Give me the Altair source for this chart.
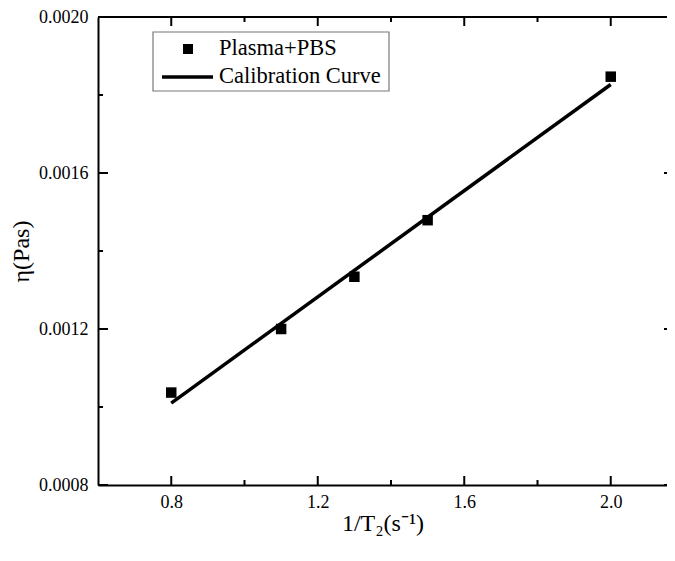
import altair as alt
import pandas as pd

# data
inv_t2 = [0.8, 1.1, 1.3, 1.5, 2.0]
eta = [0.001037, 0.001200, 0.001334, 0.001479, 0.001847]
fit_x = [0.8, 2.0]
fit_y = [0.00101, 0.001827]
series_names = ["Plasma+PBS", "Calibration Curve"]

x_major = [0.8, 1.2, 1.6, 2.0]
x_minor = [1.0, 1.4, 1.8]
y_major = [0.0008, 0.0012, 0.0016, 0.0020]
y_minor = [0.0010, 0.0014, 0.0018]

W, H = 569, 468
FONT = "Liberation Serif"

xs = alt.Scale(domain=[0.6, 2.1536], nice=False, zero=False)
ys = alt.Scale(domain=[0.0008, 0.0020], nice=False, zero=False)

pts_df = pd.DataFrame({"x": inv_t2, "y": eta})
fit_df = pd.DataFrame({"x": fit_x, "y": fit_y})

x_axis = alt.Axis(values=x_major, format=".1f", title="1/T\u2082(s\u207b\u00b9)",
                  ticks=False, grid=False, domainColor="black", domainWidth=2,
                  labelFont=FONT, labelFontSize=18, labelColor="black", labelPadding=8,
                  titleFont=FONT, titleFontSize=24, titleFontWeight="normal",
                  titleColor="black", titlePadding=0)
y_axis = alt.Axis(values=y_major, format=".4f", title="\u03b7(Pas)",
                  ticks=False, grid=False, domainColor="black", domainWidth=2,
                  labelFont=FONT, labelFontSize=18, labelColor="black", labelPadding=10,
                  titleFont=FONT, titleFontSize=24, titleFontWeight="normal",
                  titleColor="black", titlePadding=5)

points = alt.Chart(pts_df).mark_point(shape="square", filled=True, color="black",
                                      size=110, opacity=1).encode(
    x=alt.X("x:Q", scale=xs, axis=x_axis),
    y=alt.Y("y:Q", scale=ys, axis=y_axis),
)

line = alt.Chart(fit_df).mark_line(color="black", strokeWidth=3.5).encode(
    x=alt.X("x:Q", scale=xs),
    y=alt.Y("y:Q", scale=ys),
)

tick_style = dict(color="black", strokeWidth=2)

xmaj_df = pd.DataFrame({"t": x_major})
xmin_df = pd.DataFrame({"t": x_minor})
ymaj_df = pd.DataFrame({"t": y_major})
ymin_df = pd.DataFrame({"t": y_minor})

xb_major = alt.Chart(xmaj_df).mark_rule(**tick_style).encode(
    x=alt.X("t:Q", scale=xs), y=alt.value(H), y2=alt.value(H - 9))
xb_minor = alt.Chart(xmin_df).mark_rule(**tick_style).encode(
    x=alt.X("t:Q", scale=xs), y=alt.value(H), y2=alt.value(H - 5))
xt_major = alt.Chart(xmaj_df).mark_rule(**tick_style).encode(
    x=alt.X("t:Q", scale=xs), y=alt.value(0), y2=alt.value(9))
xt_minor = alt.Chart(xmin_df).mark_rule(**tick_style).encode(
    x=alt.X("t:Q", scale=xs), y=alt.value(0), y2=alt.value(5))
yl_major = alt.Chart(ymaj_df).mark_rule(**tick_style).encode(
    y=alt.Y("t:Q", scale=ys), x=alt.value(0), x2=alt.value(10))
yl_minor = alt.Chart(ymin_df).mark_rule(**tick_style).encode(
    y=alt.Y("t:Q", scale=ys), x=alt.value(0), x2=alt.value(5))
yr_major = alt.Chart(ymaj_df).mark_rule(**tick_style).encode(
    y=alt.Y("t:Q", scale=ys), x=alt.value(W), x2=alt.value(W - 3))
top_line = alt.Chart(xmaj_df.head(1)).mark_rule(**tick_style).encode(
    x=alt.value(0), x2=alt.value(W), y=alt.value(0))

# legend (box, symbols, labels)
LX, LY, LW, LH = 55, 15, 236, 59
leg_df = pd.DataFrame({"label": series_names})
leg_box = alt.Chart(leg_df.head(1)).mark_rect(fill="white", stroke="#777777",
                                             strokeWidth=1.2).encode(
    x=alt.value(LX), x2=alt.value(LX + LW), y=alt.value(LY), y2=alt.value(LY + LH))
leg_sq = alt.Chart(leg_df.head(1)).mark_point(shape="square", filled=True, color="black",
                                             size=100, opacity=1).encode(
    x=alt.value(LX + 35), y=alt.value(LY + 17))
leg_ln = alt.Chart(leg_df.head(1)).mark_rule(color="black", strokeWidth=3.5).encode(
    x=alt.value(LX + 9), x2=alt.value(LX + 60), y=alt.value(LY + 45))
leg_t1 = alt.Chart(leg_df.iloc[[0]]).mark_text(
    align="left", baseline="middle", font=FONT, fontSize=22.5, color="black").encode(
    text="label:N", x=alt.value(LX + 66), y=alt.value(LY + 16))
leg_t2 = alt.Chart(leg_df.iloc[[1]]).mark_text(
    align="left", baseline="middle", font=FONT, fontSize=22.5, color="black").encode(
    text="label:N", x=alt.value(LX + 66), y=alt.value(LY + 44))

chart = alt.layer(
    top_line, xb_major, xb_minor, xt_major, xt_minor, yl_major, yl_minor, yr_major,
    line, points, leg_box, leg_sq, leg_ln, leg_t1, leg_t2,
).properties(
    width=W, height=H,
    autosize=alt.AutoSizeParams(type="none"),
    padding={"left": 90, "top": 9, "right": 0, "bottom": 60},
).configure_view(stroke=None).configure(background="white")

chart.save("out.html", embed_options={"renderer": "svg", "actions": False})
